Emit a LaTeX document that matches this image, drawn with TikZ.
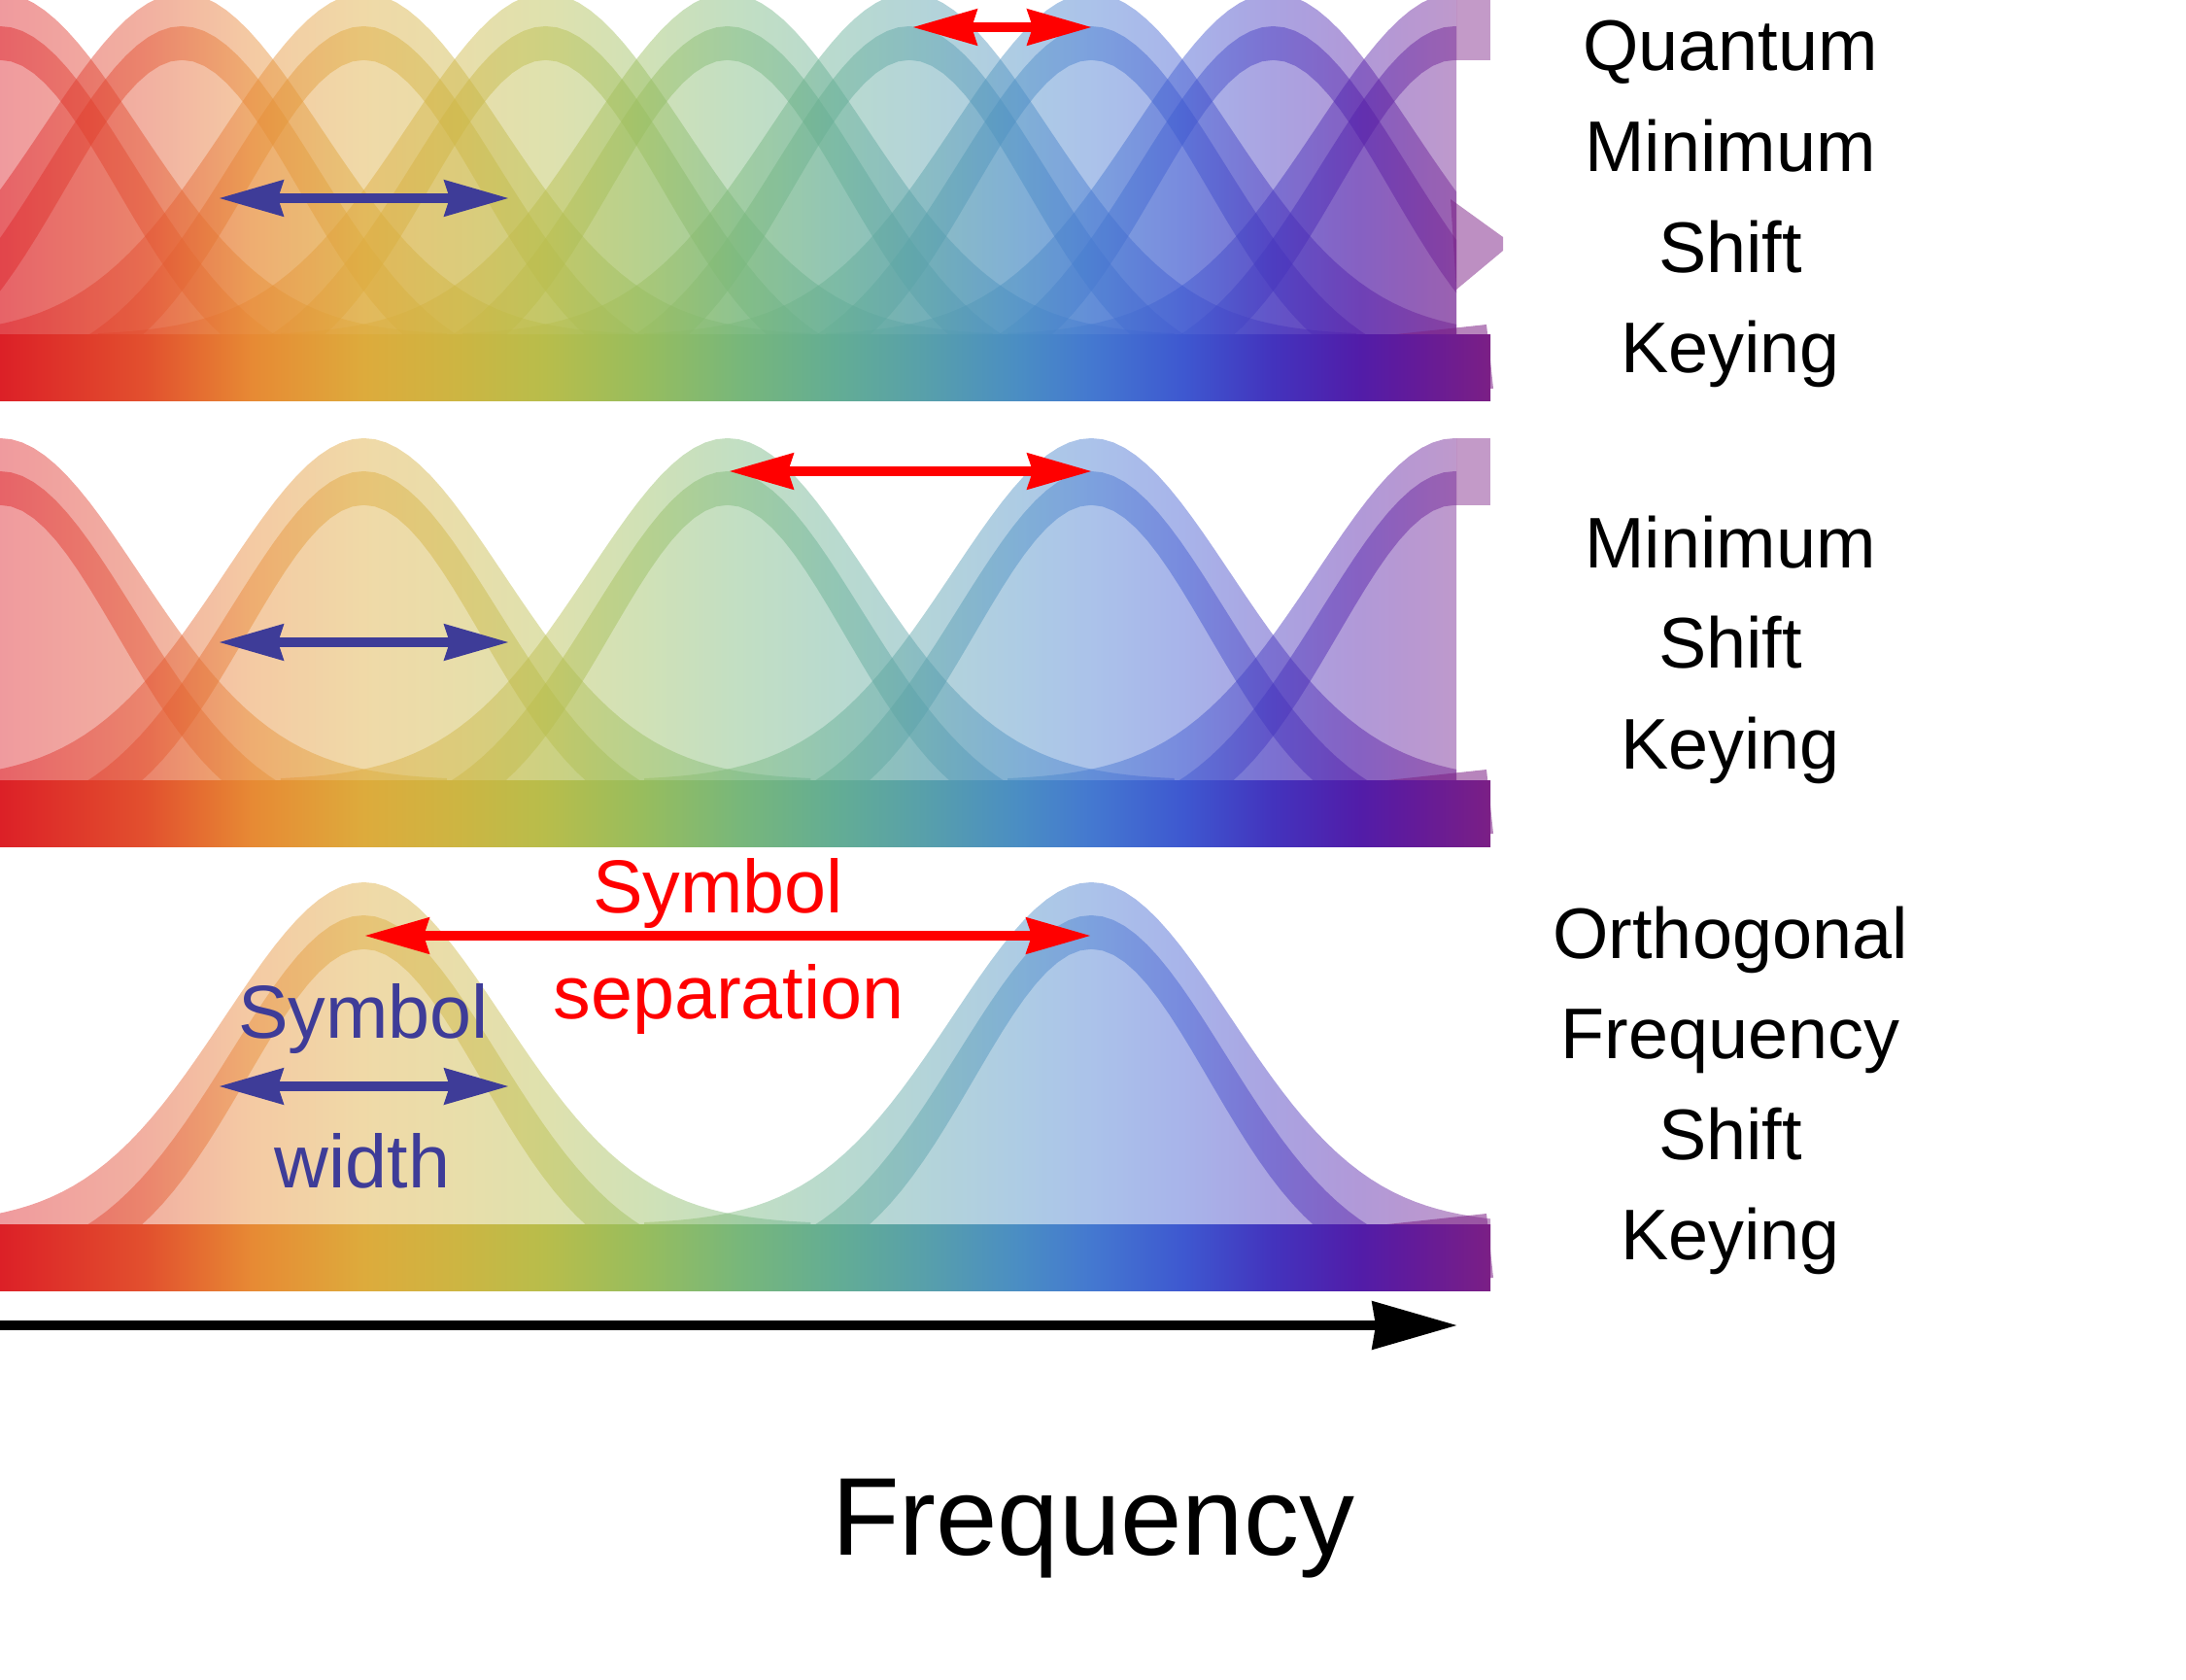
\documentclass[tikz,border=0pt]{standalone}
\usepackage{fontspec}
\setmainfont{Liberation Sans}
\usetikzlibrary{arrows.meta}

% spectrum colours, red to purple
\definecolor{rb1}{HTML}{DC2027}
\definecolor{rb2}{HTML}{E2502E}
\definecolor{rb3}{HTML}{E78A34}
\definecolor{rb4}{HTML}{DDAB3C}
\definecolor{rb5}{HTML}{CDB542}
\definecolor{rb6}{HTML}{B8BD4B}
\definecolor{rb7}{HTML}{98BD5D}
\definecolor{rb8}{HTML}{78B77A}
\definecolor{rb9}{HTML}{63AD94}
\definecolor{rb10}{HTML}{58A0AA}
\definecolor{rb11}{HTML}{4A8DC4}
\definecolor{rb12}{HTML}{4478D0}
\definecolor{rb13}{HTML}{3E58D0}
\definecolor{rb14}{HTML}{4333BD}
\definecolor{rb15}{HTML}{521CA8}
\definecolor{rb16}{HTML}{641B98}
\definecolor{rb17}{HTML}{7B1F85}
\definecolor{wblue}{HTML}{3E3C98}
\definecolor{sred}{HTML}{FF0000}

\pgfdeclarehorizontalshading{rainbow}{100bp}{color(0bp)=(rb1); color(25bp)=(rb1);
  color(29.89bp)=(rb2); color(33.47bp)=(rb3); color(37.22bp)=(rb4); color(40.32bp)=(rb5);
  color(43.29bp)=(rb6); color(46.51bp)=(rb7); color(49.77bp)=(rb8); color(53.03bp)=(rb9);
  color(55.96bp)=(rb10); color(59.22bp)=(rb11); color(61.64bp)=(rb12); color(64.70bp)=(rb13);
  color(67.70bp)=(rb14); color(70.63bp)=(rb15); color(72.59bp)=(rb16); color(75bp)=(rb17);
  color(100bp)=(rb17)}

\begin{document}
\begin{tikzpicture}[
  declare function={
    fo(\x)=3.52*exp(-((\x)*(\x))/4.0898);
    fa(\x)=3.61*exp(-((\x)*(\x))/3.7813)-0.43;
    fb(\x)=3.41*exp(-((\x)*(\x))/2.9282)-0.578;
  },
  glow/.style={shading=rainbow,opacity=.45},
  lbl/.style={anchor=base,font=\fontsize{21}{25}\selectfont},
  note/.style={anchor=base,font=\fontsize{22}{26}\selectfont},
  sizearrow/.style={{Stealth[length=6.6mm,width=3.6mm,inset=0.5mm]}-{Stealth[length=6.6mm,width=3.6mm,inset=0.5mm]},line width=1mm},
]
\useasboundingbox (0,0) rectangle (22.5,17.28);

% ---- bumps: centre / bar top / right cut ----
\foreach \c/\b/\r in {0/13.83/14.99, 1.872/13.83/14.99, 3.744/13.83/14.99, 5.616/13.83/14.99,
    7.488/13.83/14.99, 9.36/13.83/14.99, 11.232/13.83/14.99, 13.104/13.83/14.99, 14.976/13.83/14.99,
    0/9.25/14.99, 3.744/9.25/14.99, 7.488/9.25/14.99, 11.232/9.25/14.99, 14.976/9.25/14.99,
    3.744/4.68/15.34, 11.232/4.68/15.34}{
  \begin{scope}
    \clip (0,\b-0.7) rectangle (\r,17.28);
    % light body
    \begin{scope}
      \clip plot[domain=-4.6:4.6,samples=81,variable=\t] ({\c+\t},{\b+fo(\t)})
        -- (\c+4.6,\b-0.3) -- (\c-4.6,\b-0.3) -- cycle;
      \shade[glow] (0,\b-0.7) rectangle (15.34,\b+3.6);
    \end{scope}
    % darker ridge
    \begin{scope}
      \clip plot[domain=-4.6:4.6,samples=81,variable=\t] ({\c+\t},{\b+fa(\t)})
        -- plot[domain=4.6:-4.6,samples=81,variable=\t] ({\c+\t},{\b+fb(\t)}) -- cycle;
      \shade[glow] (0,\b-0.7) rectangle (15.34,\b+3.6);
    \end{scope}
  \end{scope}
}

% odd bits at the right edge
\fill[rb17,opacity=.45] (14.99,16.66) rectangle (15.34,17.28);
\fill[rb17,opacity=.45] (14.99,12.08) rectangle (15.34,12.77);
\fill[rb17,opacity=.5] (14.93,15.23) -- (15.47,14.84) -- (15.47,14.70) -- (14.99,14.30) -- cycle;
\foreach \b in {13.83,9.25,4.68}
  \fill[rb17,opacity=.55] (14.28,\b) -- (15.30,\b+0.11) -- (15.37,\b-0.55) -- (15.34,\b-0.55) -- cycle;

% ---- spectrum bars ----
\foreach \b in {13.83,9.25,4.68}
  \shade[shading=rainbow] (0,\b-0.68) rectangle (15.34,\b);

% ---- arrow ends ----
\coordinate (w1l) at (2.25,15.24);  \coordinate (w1r) at (5.24,15.24);
\coordinate (s1l) at (9.39,17.00);  \coordinate (s1r) at (11.24,17.00);
\coordinate (w2l) at (2.25,10.67);  \coordinate (w2r) at (5.24,10.67);
\coordinate (s2l) at (7.50,12.43);  \coordinate (s2r) at (11.24,12.43);
\coordinate (w3l) at (2.25,6.10);   \coordinate (w3r) at (5.24,6.10);
\coordinate (s3l) at (3.75,7.65);   \coordinate (s3r) at (11.23,7.65);
\coordinate (ax0) at (0,3.64);      \coordinate (ax1) at (15.00,3.64);

\draw[sizearrow,wblue] (w1l) -- (w1r);
\draw[sizearrow,sred] (s1l) -- (s1r);
\draw[sizearrow,wblue] (w2l) -- (w2r);
\draw[sizearrow,sred] (s2l) -- (s2r);
\draw[sizearrow,wblue] (w3l) -- (w3r);
\draw[sizearrow,sred] (s3l) -- (s3r);

% frequency axis
\draw[line width=1mm,-{Stealth[length=8.7mm,width=4.8mm,inset=0.3mm]}] (ax0) -- (ax1);

% ---- annotations ----
\node[note,text=sred] (sep1) at (7.39,7.89) {Symbol};
\node[note,text=sred] (sep2) at (7.50,6.80) {separation};
\node[note,text=wblue] (wid1) at (3.74,6.60) {Symbol};
\node[note,text=wblue] (wid2) at (3.73,5.06) {width};

% ---- names on the right ----
\foreach \w [count=\i] in {Quantum,Minimum,Shift,Keying}
  \node[lbl] (qm\i) at (17.81,{16.55-1.036*(\i-1)}) {\w};
\foreach \w [count=\i] in {Minimum,Shift,Keying}
  \node[lbl] (ms\i) at (17.81,{11.44-1.036*(\i-1)}) {\w};
\foreach \w [count=\i] in {Orthogonal,Frequency,Shift,Keying}
  \node[lbl] (of\i) at (17.81,{7.42-1.036*(\i-1)}) {\w};

\node[anchor=base,font=\fontsize{32.4}{38}\selectfont] (freq) at (11.25,1.28) {Frequency};

\end{tikzpicture}
\end{document}
